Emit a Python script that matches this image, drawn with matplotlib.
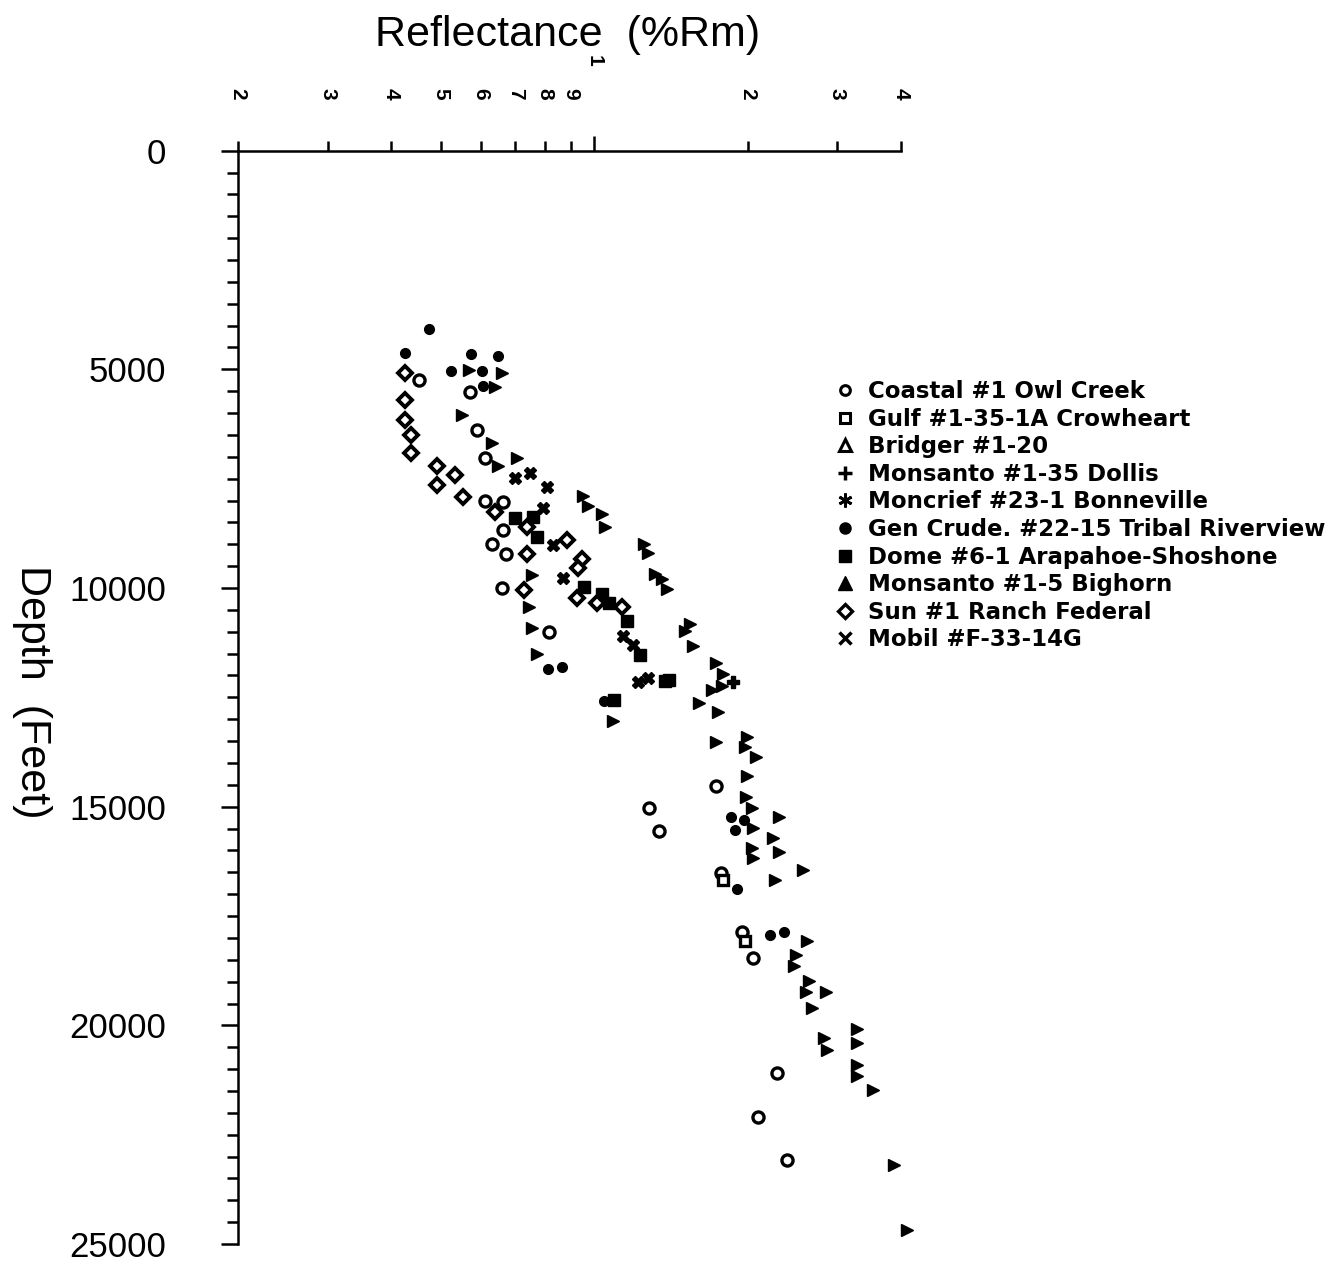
import matplotlib
matplotlib.use("Agg")
import matplotlib.pyplot as plt
from matplotlib.ticker import FixedLocator, FixedFormatter, NullFormatter, MultipleLocator
from matplotlib.lines import Line2D
import matplotlib.transforms as mtransforms

plt.rcParams['font.family'] = ['Liberation Sans', 'DejaVu Sans']

# ---------------- data (reflectance %Rm, depth ft) ----------------
coastal_x = [0.453, 0.571, 0.589, 0.611, 0.611, 0.662, 0.662, 0.630, 0.671, 0.659,
             0.815, 1.281, 1.340, 1.734, 1.774, 1.950, 2.049, 2.284, 2.096, 2.390]
coastal_y = [5235, 5509, 6377, 7016, 8020, 8043, 8682, 9002, 9230, 10007,
             11012, 15030, 15555, 14528, 16514, 17861, 18455, 21080, 22084, 23089]

gulf_x = [1.790, 1.977]
gulf_y = [16674, 18066]

bridger_x = [0.568, 0.659, 0.639, 0.550, 0.630, 0.706, 0.648, 0.755, 0.745, 0.755, 0.772, 1.089]
bridger_y = [5007, 5075, 5395, 6034, 6673, 7016, 7199, 9710, 10441, 10920, 11514, 13044]

dollis_x = [1.872]
dollis_y = [12154]

moncrief_x = [0.830, 0.869]
moncrief_y = [9025, 9778]

gencrude_x = [0.474, 0.425, 0.573, 0.648, 0.524, 0.602, 0.605, 0.812, 0.865, 1.045,
              1.856, 1.968, 1.889, 1.906, 2.213, 2.358]
gencrude_y = [4071, 4619, 4641, 4687, 5030, 5030, 5372, 11857, 11811, 12588,
              15236, 15304, 15532, 16879, 17929, 17861]

dome_x = [0.699, 0.758, 0.772, 0.955, 1.036, 1.069, 1.160, 1.230, 1.094, 1.402, 1.377]
dome_y = [8409, 8386, 8842, 9984, 10144, 10349, 10760, 11537, 12565, 12108, 12131]

bighorn_x = [0.951, 0.972, 1.036, 1.050, 1.252, 1.275, 1.316, 1.358, 1.390, 1.542,
             1.507, 1.563, 1.734, 1.790, 1.782, 1.703, 1.606, 1.750, 1.734, 1.995,
             1.977, 2.077, 1.995, 1.986, 2.040, 2.305, 2.049, 2.243, 2.040, 2.305,
             2.049, 2.569, 2.264, 2.617, 2.489, 2.467, 2.640, 2.605, 2.851, 2.676,
             3.280, 2.825, 3.280, 2.864, 3.280, 3.280, 3.525, 3.876, 4.110]
bighorn_y = [7906, 8135, 8317, 8614, 9002, 9207, 9687, 9801, 10030, 10829,
             10989, 11331, 11720, 11971, 12245, 12336, 12633, 12839, 13524, 13410,
             13638, 13866, 14300, 14779, 15030, 15236, 15487, 15715, 15943, 16035,
             16172, 16446, 16674, 18066, 18386, 18637, 18980, 19231, 19231, 19596,
             20075, 20281, 20395, 20555, 20897, 21148, 21468, 23203, 24687]

sun_x = [0.425, 0.425, 0.425, 0.437, 0.437, 0.492, 0.533, 0.492, 0.553, 0.639,
         0.738, 0.738, 0.728, 0.884, 0.946, 0.929, 0.925, 1.013, 1.134]
sun_y = [5075, 5691, 6148, 6491, 6902, 7199, 7427, 7655, 7929, 8272,
         8614, 9230, 10053, 8911, 9344, 9550, 10235, 10349, 10441]

mobil_x = [0.748, 0.699, 0.808, 0.793, 1.139, 1.192, 1.219, 1.275]
mobil_y = [7359, 7473, 7701, 8180, 11103, 11309, 12154, 12062]

series_names = ["Coastal #1 Owl Creek", "Gulf #1-35-1A Crowheart", "Bridger #1-20",
                "Monsanto #1-35 Dollis", "Moncrief #23-1 Bonneville",
                "Gen Crude. #22-15 Tribal Riverview", "Dome #6-1 Arapahoe-Shoshone",
                "Monsanto #1-5 Bighorn", "Sun #1 Ranch Federal", "Mobil #F-33-14G"]

x_minor_ticks = [0.2, 0.3, 0.4, 0.5, 0.6, 0.7, 0.8, 0.9, 2, 3, 4]
x_minor_labels = ["2", "3", "4", "5", "6", "7", "8", "9", "2", "3", "4"]

# ---------------- figure ----------------
fig = plt.figure(figsize=(13.35, 12.63), dpi=100)
ax = fig.add_axes([0.1783, 0.0150, 0.4966, 0.8657])
ax.set_xscale('log')
ax.set_xlim(0.2, 4)
ax.set_ylim(25000, 0)

lw = 1.8
for s in ['bottom', 'right']:
    ax.spines[s].set_visible(False)
for s in ['top', 'left']:
    ax.spines[s].set_linewidth(lw)

ax.xaxis.set_ticks_position('top')
ax.xaxis.set_major_locator(FixedLocator([1.0]))
ax.xaxis.set_major_formatter(NullFormatter())
ax.xaxis.set_minor_locator(FixedLocator(x_minor_ticks))
ax.xaxis.set_minor_formatter(FixedFormatter(x_minor_labels))
ax.tick_params(axis='x', which='major', direction='out', length=11, width=lw)
ax.tick_params(axis='x', which='minor', direction='out', length=7, width=lw,
               pad=30, labelsize=15, labelrotation=-90)
for lab in ax.xaxis.get_minorticklabels():
    lab.set_fontweight('bold')

ax.yaxis.set_major_locator(MultipleLocator(5000))
ax.yaxis.set_minor_locator(MultipleLocator(500))
ax.yaxis.set_major_formatter(matplotlib.ticker.FuncFormatter(lambda v, p: f"{int(v)}"))
ax.tick_params(axis='y', which='major', direction='out', length=12, width=lw,
               pad=40, labelsize=25)
ax.tick_params(axis='y', which='minor', direction='out', length=8, width=lw)

ms = 8
ew = 2.4
common = dict(linestyle='none', clip_on=False, color='black')
ax.plot(coastal_x, coastal_y, marker='o', markersize=ms, markerfacecolor='white',
        markeredgewidth=ew, **common)
ax.plot(gulf_x, gulf_y, marker='s', markersize=ms - 1, markerfacecolor='white',
        markeredgewidth=ew, **common)
ax.plot(bridger_x, bridger_y, marker='>', markersize=ms + 1, **common)
ax.plot(dollis_x, dollis_y, marker='P', markersize=ms + 1, **common)
ax.plot(moncrief_x, moncrief_y, marker='X', markersize=ms + 1, **common)
ax.plot(gencrude_x, gencrude_y, marker='o', markersize=ms - 1, **common)
ax.plot(dome_x, dome_y, marker='s', markersize=ms, **common)
ax.plot(bighorn_x, bighorn_y, marker='>', markersize=ms + 1, **common)
ax.plot(sun_x, sun_y, marker='D', markersize=ms - 0.5, markerfacecolor='white',
        markeredgewidth=ew + 0.4, **common)
ax.plot(mobil_x, mobil_y, marker='X', markersize=ms, **common)

# ---------------- texts ----------------
fig.text(0.425, 0.972, "Reflectance  (%Rm)", ha='center', va='center', fontsize=31)
trans = mtransforms.blended_transform_factory(ax.transData, fig.transFigure)
fig.text(1.0, 0.952, "1", transform=trans, ha='center', va='center', fontsize=15,
         fontweight='bold', rotation=-90)
fig.text(0.024, 0.452, "Depth  (Feet)", ha='center', va='center', fontsize=31,
         rotation=-90)

# ---------------- legend ----------------
handles = [
    Line2D([], [], linestyle='none', color='black', marker='o', markersize=7,
           markerfacecolor='white', markeredgewidth=2.2),
    Line2D([], [], linestyle='none', color='black', marker='s', markersize=7,
           markerfacecolor='white', markeredgewidth=2.2),
    Line2D([], [], linestyle='none', color='black', marker='^', markersize=8,
           markerfacecolor='white', markeredgewidth=2.2),
    Line2D([], [], linestyle='none', color='black', marker='+', markersize=10,
           markeredgewidth=2.5),
    Line2D([], [], linestyle='none', color='black', marker=(6, 2, 0), markersize=10,
           markeredgewidth=2.0),
    Line2D([], [], linestyle='none', color='black', marker='o', markersize=8),
    Line2D([], [], linestyle='none', color='black', marker='s', markersize=8),
    Line2D([], [], linestyle='none', color='black', marker='^', markersize=10),
    Line2D([], [], linestyle='none', color='black', marker='D', markersize=7,
           markerfacecolor='white', markeredgewidth=2.4),
    Line2D([], [], linestyle='none', color='black', marker='x', markersize=8,
           markeredgewidth=2.5),
]
leg = fig.legend(handles, series_names, loc='upper left',
                 bbox_to_anchor=(0.625, 0.699), frameon=False,
                 prop={'family': 'DejaVu Sans', 'size': 16.5, 'weight': 'bold'},
                 handlelength=0.9, handletextpad=0.55, labelspacing=0.20,
                 borderpad=0, borderaxespad=0)

fig.savefig("out.png", dpi=100)
